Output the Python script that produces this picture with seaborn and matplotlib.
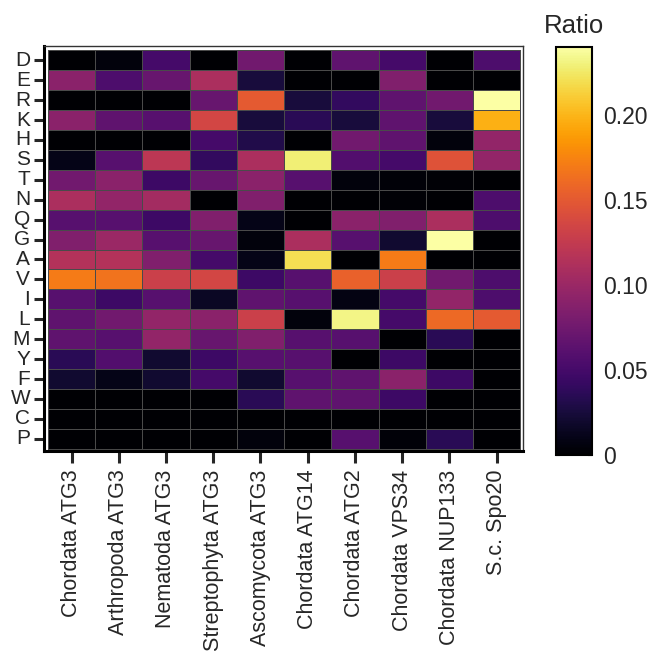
import numpy as np
import pandas as pd
import matplotlib
matplotlib.use("Agg")
import matplotlib.pyplot as plt
import seaborn as sns

# amino acids (rows) and protein groups (columns)
residues = ["D", "E", "R", "K", "H", "S", "T", "N", "Q", "G",
            "A", "V", "I", "L", "M", "Y", "F", "W", "C", "P"]
groups = ["Chordata ATG3", "Arthropoda ATG3", "Nematoda ATG3", "Streptophyta ATG3",
          "Ascomycota ATG3", "Chordata ATG14", "Chordata ATG2", "Chordata VPS34",
          "Chordata NUP133", "S.c. Spo20"]

# ratio per residue, one list per group (order as residues)
chordata_atg3 = [0, 0.09, 0, 0.09, 0, 0.01, 0.075, 0.11, 0.06, 0.085,
                 0.115, 0.17, 0.06, 0.065, 0.065, 0.035, 0.02, 0, 0, 0]
arthropoda_atg3 = [0.005, 0.055, 0, 0.065, 0, 0.06, 0.09, 0.095, 0.06, 0.10,
                   0.115, 0.165, 0.045, 0.075, 0.06, 0.058, 0.01, 0, 0, 0]
nematoda_atg3 = [0.05, 0.07, 0, 0.06, 0, 0.12, 0.045, 0.105, 0.045, 0.06,
                 0.085, 0.13, 0.06, 0.095, 0.095, 0.02, 0.02, 0, 0, 0]
streptophyta_atg3 = [0, 0.11, 0.07, 0.135, 0.05, 0.04, 0.07, 0, 0.085, 0.07,
                     0.05, 0.135, 0.015, 0.09, 0.07, 0.045, 0.05, 0, 0, 0]
ascomycota_atg3 = [0.075, 0.025, 0.15, 0.025, 0.03, 0.11, 0.09, 0.085, 0.01, 0.005,
                   0.01, 0.045, 0.065, 0.13, 0.085, 0.06, 0.02, 0.035, 0, 0.005]
chordata_atg14 = [0, 0, 0.025, 0.035, 0, 0.228, 0.06, 0, 0, 0.11,
                  0.22, 0.06, 0.06, 0.005, 0.06, 0.06, 0.06, 0.065, 0, 0]
chordata_atg2 = [0.065, 0, 0.04, 0.025, 0.075, 0.058, 0.005, 0, 0.09, 0.06,
                 0, 0.155, 0.008, 0.232, 0.06, 0, 0.065, 0.065, 0, 0.06]
chordata_vps34 = [0.05, 0.085, 0.065, 0.065, 0.065, 0.05, 0.003, 0.002, 0.085, 0.02,
                  0.17, 0.13, 0.05, 0.05, 0, 0.045, 0.09, 0.045, 0, 0.003]
chordata_nup133 = [0, 0, 0.075, 0.025, 0.005, 0.145, 0.002, 0, 0.11, 0.24,
                   0, 0.075, 0.095, 0.16, 0.035, 0, 0.045, 0, 0, 0.035]
sc_spo20 = [0.055, 0, 0.24, 0.197, 0.095, 0.095, 0, 0.055, 0.055, 0,
            0, 0.055, 0.055, 0.15, 0, 0, 0, 0, 0, 0]

df = pd.DataFrame(np.array([chordata_atg3, arthropoda_atg3, nematoda_atg3, streptophyta_atg3,
                            ascomycota_atg3, chordata_atg14, chordata_atg2, chordata_vps34,
                            chordata_nup133, sc_spo20]).T,
                  index=residues, columns=groups)

sns.set_style("white")
plt.rcParams['font.family'] = ['Liberation Sans', 'DejaVu Sans']

fig = plt.figure(figsize=(6.49, 6.61), dpi=100)
ax = fig.add_axes([0.068, 0.318, 0.738, 0.612])
cax = fig.add_axes([0.857, 0.312, 0.055, 0.617])

sns.heatmap(df, cmap="inferno", vmin=0, vmax=0.24, ax=ax, cbar_ax=cax,
            linewidths=0.5, linecolor="#4a4a4a")

ax.set_xlim(-0.08, 10.06)
ax.set_ylim(20.1, -0.2)
for side in ["top", "right"]:
    ax.spines[side].set_visible(True)
    ax.spines[side].set_linewidth(1)
    ax.spines[side].set_color("#333333")
for side in ["left", "bottom"]:
    ax.spines[side].set_visible(True)
    ax.spines[side].set_linewidth(2.2)
    ax.spines[side].set_color("black")

ax.tick_params(axis="y", length=7, width=2.2, labelsize=15, pad=3, left=True)
ax.tick_params(axis="x", length=8.5, width=2.2, labelsize=15.5, pad=5, bottom=True)
ax.set_yticklabels(residues, rotation=0)
ax.set_xticklabels(groups, rotation=90)
ax.set_xlabel("")
ax.set_ylabel("")

cbar = ax.collections[0].colorbar
cbar.set_ticks([0, 0.05, 0.10, 0.15, 0.20])
cbar.set_ticklabels(["0", "0.05", "0.10", "0.15", "0.20"])
cbar.ax.tick_params(labelsize=16.5, length=3, width=1.5, direction="in", left=True, right=True, pad=8)
cbar.outline.set_visible(True)
cbar.outline.set_linewidth(1.5)
cbar.outline.set_edgecolor("black")
cbar.ax.set_title("Ratio", fontsize=18.5, pad=10)

fig.savefig("out.png", dpi=100)
